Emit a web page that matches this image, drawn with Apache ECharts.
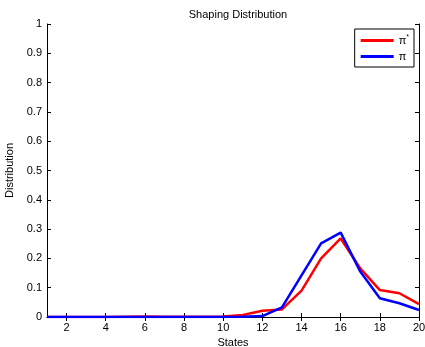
<!DOCTYPE html>
<html>
<head>
<meta charset="utf-8">
<script src="https://cdn.jsdelivr.net/npm/echarts@6/dist/echarts.min.js"></script>
<style>
  html, body { margin: 0; padding: 0; background: #fff; }
  #chart { width: 425px; height: 347px; }
</style>
</head>
<body>
<div id="chart"></div>
<script>
const states = [1, 2, 3, 4, 5, 6, 7, 8, 9, 10, 11, 12, 13, 14, 15, 16, 17, 18, 19, 20];
const piStar = [0, 0, 0, 0, 0.001, 0.002, 0.001, 0.001, 0.001, 0.002, 0.007, 0.021, 0.026, 0.09, 0.2, 0.268, 0.166, 0.092, 0.081, 0.044];
const piVals = [0, 0, 0, 0, 0, 0, 0, 0, 0, 0, 0.001, 0.003, 0.033, 0.142, 0.251, 0.288, 0.155, 0.064, 0.047, 0.024];
const xTicks = [2, 4, 6, 8, 10, 12, 14, 16, 18, 20];

const font = "'Liberation Sans', Arial, sans-serif";
const el = document.getElementById("chart");
const chart = echarts.init(el, null, { renderer: "canvas" });

const frameLine = { show: true, lineStyle: { color: "#000", width: 1 } };
const inTick = { show: true, inside: true, length: 4, lineStyle: { color: "#000" } };

chart.setOption({
  animation: false,
  textStyle: { fontFamily: font },
  title: {
    text: "Shaping Distribution",
    left: 233,
    top: 4,
    textAlign: "center",
    textStyle: { fontSize: 11, fontWeight: "normal", color: "#000", fontFamily: font }
  },
  grid: { left: 47, right: 6, top: 24, bottom: 30, outerBoundsMode: "none", containLabel: false },
  legend: {
    orient: "vertical",
    right: 11,
    top: 29,
    padding: [5, 5, 5, 6],
    itemGap: 5,
    itemWidth: 33,
    itemHeight: 3,
    icon: "rect",
    borderColor: "#000",
    borderWidth: 1,
    backgroundColor: "#fff",
    data: ["π*", "π"],
    formatter: (n) => n === "π*" ? "{b|π}{s|*}" : "{b|π}",
    textStyle: {
      color: "#000",
      fontFamily: font,
      rich: {
        b: { fontSize: 11, fontFamily: font, color: "#000" },
        s: { fontSize: 7, fontFamily: font, color: "#000", verticalAlign: "top", padding: [0, 0, 6, 0] }
      }
    }
  },
  xAxis: [
    {
      type: "value",
      min: 1,
      max: 20,
      name: "States",
      nameLocation: "middle",
      nameGap: 18,
      nameTextStyle: { fontSize: 11, color: "#000", fontFamily: font },
      axisLine: frameLine,
      axisTick: Object.assign({ customValues: xTicks }, inTick),
      axisLabel: { customValues: xTicks, fontSize: 11, color: "#000", margin: 5, fontFamily: font },
      splitLine: { show: false }
    },
    {
      type: "value",
      position: "top",
      min: 1,
      max: 20,
      axisLine: frameLine,
      axisTick: Object.assign({ customValues: xTicks }, inTick),
      axisLabel: { show: false },
      splitLine: { show: false }
    }
  ],
  yAxis: [
    {
      type: "value",
      min: 0,
      max: 1,
      interval: 0.1,
      name: "Distribution",
      nameLocation: "middle",
      nameGap: 26,
      nameTextStyle: { fontSize: 11, color: "#000", fontFamily: font },
      axisLine: frameLine,
      axisTick: inTick,
      axisLabel: {
        fontSize: 11, color: "#000", margin: 5, fontFamily: font,
        formatter: (v) => String(Math.round(v * 10) / 10)
      },
      splitLine: { show: false }
    },
    {
      type: "value",
      position: "right",
      min: 0,
      max: 1,
      interval: 0.1,
      axisLine: frameLine,
      axisTick: inTick,
      axisLabel: { show: false },
      splitLine: { show: false }
    }
  ],
  series: [
    {
      name: "π*",
      type: "line",
      data: states.map((s, i) => [s, piStar[i]]),
      symbol: "none",
      lineStyle: { color: "#ff0000", width: 2.5 },
      itemStyle: { color: "#ff0000" },
      z: 2
    },
    {
      name: "π",
      type: "line",
      data: states.map((s, i) => [s, piVals[i]]),
      symbol: "none",
      lineStyle: { color: "#0000ff", width: 2.5 },
      itemStyle: { color: "#0000ff" },
      z: 3
    }
  ]
});
</script>
</body>
</html>
